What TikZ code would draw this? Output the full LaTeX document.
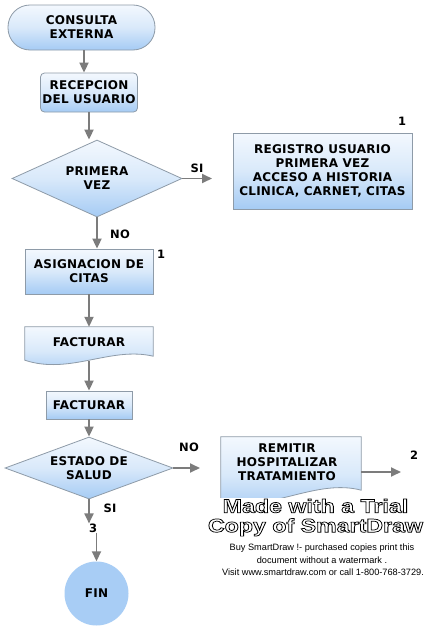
\documentclass[tikz,border=0pt]{standalone}
\usepackage{fontspec}
\setmainfont{DejaVu Sans}[LetterSpace=2]
\newfontfamily\wmfont{Liberation Sans}
\usetikzlibrary{shapes.geometric,arrows.meta,calc}
\definecolor{topc}{HTML}{F3F8FE}
\definecolor{midc}{HTML}{D9E9FA}
\definecolor{botc}{HTML}{A5CBF4}
\definecolor{bordc}{HTML}{8E9BA8}
\definecolor{arrc}{HTML}{7C7C7C}
\definecolor{finc}{HTML}{A8CDF5}
\newcommand{\outlinetext}[1]{\special{pdf:literal direct 1 Tr 0.7 w}#1\special{pdf:literal direct 0 Tr}}
\begin{document}
\begin{tikzpicture}[x=1pt,y=-1pt,
  txt/.style={font=\bfseries\fontsize{12}{14}\selectfont, align=center, inner sep=0pt},
  grad/.style={top color=topc, bottom color=botc, middle color=midc},
  box/.style={txt, grad, draw=bordc, line width=0.8pt},
  doc/.style={grad, draw=bordc, line width=0.8pt},
  dia/.style={box, diamond, aspect=2},
  lbl/.style={font=\bfseries\fontsize{11.5}{13}\selectfont, inner sep=0pt},
  arr/.style={draw=arrc, line width=1.8pt, -{Triangle[length=10pt,width=9pt]}},
  wmbig/.style={font=\wmfont\bfseries\fontsize{19}{19.5}\selectfont, align=center, inner sep=0.5pt, fill=white},
  wmsmall/.style={font=\wmfont\fontsize{9.2}{10}\selectfont, inner sep=0pt}
]
\fill[white] (0,0) rectangle (427,629);
\useasboundingbox (0,0) rectangle (427,629);

% nodes
\node[box, minimum width=147pt, minimum height=45pt, rounded corners=22pt] (cons) at (81.5,27.5) {CONSULTA\\EXTERNA};
\node[box, minimum width=97pt, minimum height=39pt, rounded corners=4pt] (rec) at (89,92.5) {RECEPCION\\DEL USUARIO};
\node[dia, minimum width=170pt, minimum height=77pt] (pv) at (97,178.5) {PRIMERA\\VEZ};
\node[box, minimum width=179pt, minimum height=76pt] (reg) at (322.5,171) {REGISTRO USUARIO\\PRIMERA VEZ\\ACCESO A HISTORIA\\CLINICA, CARNET, CITAS};
\node[box, minimum width=128pt, minimum height=45pt] (asig) at (89,271.5) {ASIGNACION DE\\CITAS};

% document shape FACTURAR
\node[txt, minimum width=128pt, minimum height=30pt] (fac) at (89,342) {};
\path[doc] (fac.north west) -- (fac.north east) -- ([yshift=1pt]fac.south east)
  .. controls ([xshift=-43pt,yshift=11pt]fac.south east) and ([xshift=45pt,yshift=-18pt]fac.south west)
  .. ([yshift=-3pt]fac.south west) -- cycle;
\node[txt] at (fac.center) {FACTURAR};

\node[box, minimum width=86pt, minimum height=28pt] (fac2) at (89,405) {FACTURAR};
\node[dia, minimum width=168pt, minimum height=62pt] (es) at (89,468) {ESTADO DE\\SALUD};

% document shape REMITIR
\node[txt, minimum width=140pt, minimum height=53pt] (rem) at (291,463.5) {};
\path[doc] (rem.north west) -- (rem.north east) -- (rem.south east)
  .. controls ([xshift=-45pt,yshift=12pt]rem.south east) and ([xshift=50pt,yshift=-22pt]rem.south west)
  .. ([yshift=-12pt]rem.south west) -- cycle;
\node[txt] at ([xshift=-4pt,yshift=1pt]rem.center) {REMITIR\\HOSPITALIZAR\\TRATAMIENTO};

\node[lbl] (three) at (93,528) {3};
\node[txt, circle, fill=finc, minimum size=64pt] (fin) at (96.5,593.5) {FIN};

% labels
\node[lbl] (lsi1) at (197,168) {SI};
\node[lbl] (lno1) at (120,234) {NO};
\node[lbl] (n1a) at (402,121) {1};
\node[lbl] (n1b) at (161,254) {1};
\node[lbl] (lno2) at (189,447) {NO};
\node[lbl] (n2) at (414,455) {2};
\node[lbl] (lsi2) at (110,508) {SI};

% free ends
\coordinate (ax1) at (84,0);
\coordinate (siend) at (212,178.5);
\coordinate (noend) at (200,468);
\coordinate (remout) at (361,472);
\coordinate (remend) at (401,472);

% connectors
\draw[arr] (cons.south -| ax1) -- (rec.north -| ax1);
\draw[arr] (rec.south) -- (rec.south |- pv.north);
\draw[arr] (pv.east) -- (siend);
\draw[arr] (pv.south) -- (pv.south |- asig.north);
\draw[arr] (asig.south) -- (fac.north);
\draw[arr] ([yshift=-4pt]fac.south) -- (fac2.north);
\draw[arr] (fac2.south) -- (es.north);
\draw[arr] (es.east) -- (noend);
\draw[arr] (remout) -- (remend);
\draw[arr] (es.south) -- (es.south |- three.north);
\draw[arr] (fin.north |- three.south) -- (fin.north);

% watermark
\node[wmbig] (wm1) at (315.5,517.5) {\scalebox{1.22}[1]{\outlinetext{Made with a Trial}}\\\scalebox{1.22}[1]{\outlinetext{Copy of SmartDraw}}};
\node[wmsmall] (wm3) at (322,548) {Buy SmartDraw !- purchased copies print this};
\node[wmsmall] (wm4) at (322,560) {document without a watermark .};
\node[wmsmall] (wm5) at (323,572) {Visit www.smartdraw.com or call 1-800-768-3729.};
\end{tikzpicture}
\end{document}
